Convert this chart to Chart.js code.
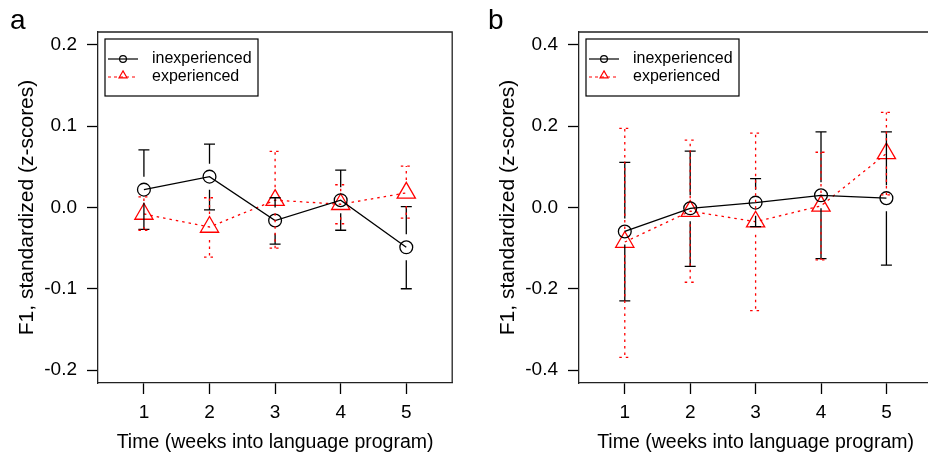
<!DOCTYPE html>
<html><head><meta charset="utf-8">
<script src="https://cdn.jsdelivr.net/npm/chart.js@4.4.1/dist/chart.umd.min.js"></script>
<style>
html,body{margin:0;padding:0;background:#fff;overflow:hidden;}
#wrap{position:relative;width:928px;height:457px;overflow:hidden;background:#fff;}
canvas{position:absolute;top:0;}
#ca{left:0;}
#cb{left:464px;}
</style></head><body>
<div id="wrap"><canvas id="ca" width="464" height="457"></canvas><canvas id="cb" width="480" height="457"></canvas></div>
<script>
// ---- data ----
const weeks = [1, 2, 3, 4, 5];
const xTicks = [1, 2, 3, 4, 5];
const xTickLabels = ['1', '2', '3', '4', '5'];
const seriesNames = ['inexperienced', 'experienced'];
const panelLetters = ['a', 'b'];
const xTitle = 'Time (weeks into language program)';
const yTitle = 'F1, standardized (z-scores)';

// panel a
const aInexpMean = [0.022, 0.038, -0.016, 0.009, -0.049];
const aInexpLow  = [-0.027, -0.003, -0.045, -0.028, -0.100];
const aInexpHigh = [0.071, 0.078, 0.012, 0.046, 0.001];
const aExpMean   = [-0.008, -0.024, 0.009, 0.004, 0.018];
const aExpLow    = [-0.028, -0.061, -0.050, -0.020, -0.013];
const aExpHigh   = [0.013, 0.012, 0.069, 0.028, 0.051];
const yTicksA = [-0.2, -0.1, 0, 0.1, 0.2];
const yTickLabelsA = ['-0.2', '-0.1', '0.0', '0.1', '0.2'];

// panel b
const bInexpMean = [-0.059, -0.002, 0.012, 0.030, 0.023];
const bInexpLow  = [-0.230, -0.145, -0.047, -0.126, -0.142];
const bInexpHigh = [0.111, 0.139, 0.071, 0.186, 0.186];
const bExpMean   = [-0.085, -0.009, -0.035, 0.004, 0.133];
const bExpLow    = [-0.369, -0.184, -0.254, -0.129, 0.031];
const bExpHigh   = [0.195, 0.166, 0.183, 0.136, 0.234];
const yTicksB = [-0.4, -0.2, 0, 0.2, 0.4];
const yTickLabelsB = ['-0.4', '-0.2', '0.0', '0.2', '0.4'];

// ---- styling ----
const FONT = "'Liberation Sans', Arial, Helvetica, sans-serif";
const BLACK = '#000000';
const RED = '#ff0000';
const RED_DASH = [2.5, 4];

function pts(ys) { return weeks.map((w, i) => ({ x: w, y: ys[i] })); }

function makePanel(canvasId, cfg) {
  const errPlugin = {
    id: 'errBars',
    afterDatasetsDraw(chart) {
      const { ctx, scales: { x, y } } = chart;
      cfg.err.forEach(s => {
        ctx.save();
        ctx.strokeStyle = s.color;
        ctx.lineWidth = 1.3;
        ctx.setLineDash(s.dash);
        const gap = 13, cap = 5.5;
        weeks.forEach((w, i) => {
          const px = x.getPixelForValue(w);
          const pm = y.getPixelForValue(s.mean[i]);
          const ph = y.getPixelForValue(s.hi[i]);
          const pl = y.getPixelForValue(s.lo[i]);
          ctx.beginPath();
          if (pm - gap > ph) {
            ctx.moveTo(px, pm - gap); ctx.lineTo(px, ph);
            ctx.moveTo(px - cap, ph); ctx.lineTo(px + cap, ph);
          }
          if (pm + gap < pl) {
            ctx.moveTo(px, pm + gap); ctx.lineTo(px, pl);
            ctx.moveTo(px - cap, pl); ctx.lineTo(px + cap, pl);
          }
          ctx.stroke();
        });
        ctx.restore();
      });
    }
  };
  const decoPlugin = {
    id: 'deco',
    afterDraw(chart) {
      const { ctx, chartArea: ca } = chart;
      ctx.save();
      // box top and right
      ctx.strokeStyle = '#222';
      ctx.lineWidth = 1.3;
      ctx.beginPath();
      ctx.moveTo(ca.left, ca.top); ctx.lineTo(ca.right, ca.top); ctx.lineTo(ca.right, ca.bottom);
      ctx.stroke();
      // panel letter
      ctx.fillStyle = '#000';
      ctx.font = '28px ' + FONT;
      ctx.textAlign = 'left';
      ctx.textBaseline = 'alphabetic';
      ctx.fillText(cfg.letter, cfg.letterX, 29);
      // legend
      const lx = ca.left + 7, ly = 39, lw = 153, lh = 57;
      ctx.fillStyle = '#fff';
      ctx.fillRect(lx, ly, lw, lh);
      ctx.strokeStyle = '#000';
      ctx.lineWidth = 1.2;
      ctx.strokeRect(lx, ly, lw, lh);
      const r1 = 59, r2 = 77;
      // row 1
      ctx.lineWidth = 1.2;
      ctx.strokeStyle = BLACK;
      ctx.beginPath(); ctx.moveTo(lx + 3, r1); ctx.lineTo(lx + 33, r1); ctx.stroke();
      ctx.beginPath(); ctx.arc(lx + 18, r1, 3.4, 0, Math.PI * 2); ctx.stroke();
      // row 2
      ctx.strokeStyle = RED;
      ctx.setLineDash([3, 3]);
      ctx.beginPath(); ctx.moveTo(lx + 3, r2); ctx.lineTo(lx + 33, r2); ctx.stroke();
      ctx.setLineDash([]);
      const tr = 4.6, tcx = lx + 18, tcy = r2 - 1.5;
      ctx.beginPath();
      ctx.moveTo(tcx, tcy - tr);
      ctx.lineTo(tcx + tr * 0.866, tcy + tr / 2);
      ctx.lineTo(tcx - tr * 0.866, tcy + tr / 2);
      ctx.closePath(); ctx.stroke();
      ctx.fillStyle = '#000';
      ctx.font = '16px ' + FONT;
      ctx.textBaseline = 'middle';
      ctx.fillText(seriesNames[0], lx + 47, r1);
      ctx.fillText(seriesNames[1], lx + 47, r2);
      ctx.restore();
    }
  };

  return new Chart(document.getElementById(canvasId), {
    type: 'line',
    data: {
      datasets: [
        {
          label: seriesNames[0], data: pts(cfg.inexp),
          borderColor: BLACK, borderWidth: 1.3,
          pointStyle: 'circle', pointRadius: 6.4, pointBorderWidth: 1.3,
          pointBorderColor: BLACK, pointBackgroundColor: 'rgba(0,0,0,0)',
          tension: 0, fill: false
        },
        {
          label: seriesNames[1], data: pts(cfg.exp),
          borderColor: RED, borderWidth: 1.3, borderDash: RED_DASH,
          pointStyle: 'triangle', pointRadius: 10.5, pointBorderWidth: 1.3,
          pointBorderColor: RED, pointBackgroundColor: 'rgba(0,0,0,0)',
          tension: 0, fill: false
        }
      ]
    },
    options: {
      responsive: false,
      animation: false,
      devicePixelRatio: 1,
      clip: false,
      layout: { padding: { top: 32, right: cfg.padRight, left: 0, bottom: 0 } },
      plugins: { legend: { display: false }, tooltip: { enabled: false } },
      scales: {
        x: {
          type: 'linear', min: 0.3, max: 5.7,
          afterBuildTicks: s => { s.ticks = xTicks.map(v => ({ value: v })); },
          afterFit: s => { s.height = 74; },
          ticks: {
            callback: (v, i) => xTickLabels[i],
            color: '#000', font: { family: FONT, size: 19 }, padding: 7,
            maxRotation: 0, autoSkip: false
          },
          grid: { drawOnChartArea: false, drawTicks: true, tickLength: 11, tickColor: '#000', tickWidth: 1.3 },
          border: { display: true, color: '#222', width: 1.3 },
          title: { display: true, text: xTitle, color: '#000', font: { family: FONT, size: 19.5 }, padding: { top: 0, bottom: 2.3 } }
        },
        y: {
          type: 'linear', min: cfg.ymin, max: cfg.ymax,
          afterBuildTicks: s => { s.ticks = cfg.yTicks.map(v => ({ value: v })); },
          afterFit: s => { s.width = cfg.yWidth; },
          ticks: {
            callback: (v, i) => cfg.yLabels[i],
            color: '#000', font: { family: FONT, size: 19 }, padding: 10, autoSkip: false
          },
          grid: { drawOnChartArea: false, drawTicks: true, tickLength: 11, tickColor: '#000', tickWidth: 1.3 },
          border: { display: true, color: '#222', width: 1.3 },
          title: { display: true, text: yTitle, color: '#000', font: { family: FONT, size: 21 }, padding: { top: cfg.yTitlePad, bottom: 0 } }
        }
      }
    },
    plugins: [errPlugin, decoPlugin]
  });
}

makePanel('ca', {
  inexp: aInexpMean, exp: aExpMean,
  err: [
    { mean: aInexpMean, lo: aInexpLow, hi: aInexpHigh, color: BLACK, dash: [] },
    { mean: aExpMean, lo: aExpLow, hi: aExpHigh, color: RED, dash: RED_DASH }
  ],
  yTicks: yTicksA, yLabels: yTickLabelsA, ymin: -0.216, ymax: 0.216,
  yWidth: 98, padRight: 7, yTitlePad: 14.4, letter: panelLetters[0], letterX: 10
});
makePanel('cb', {
  inexp: bInexpMean, exp: bExpMean,
  err: [
    { mean: bInexpMean, lo: bInexpLow, hi: bInexpHigh, color: BLACK, dash: [] },
    { mean: bExpMean, lo: bExpLow, hi: bExpHigh, color: RED, dash: RED_DASH }
  ],
  yTicks: yTicksB, yLabels: yTickLabelsB, ymin: -0.432, ymax: 0.432,
  yWidth: 115, padRight: 6, yTitlePad: 31.4, letter: panelLetters[1], letterX: 24
});
</script>
</body></html>
